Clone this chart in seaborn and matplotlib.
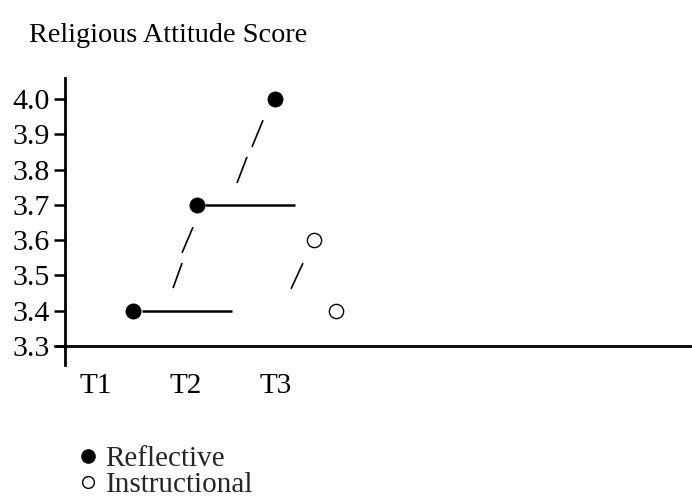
import matplotlib
matplotlib.use("Agg")
import matplotlib.pyplot as plt
import seaborn as sns
import pandas as pd
from matplotlib.lines import Line2D

sns.set_theme(style="white")
plt.rcParams["font.family"] = ["Liberation Serif", "DejaVu Serif"]

# ---- data ----
times = ["T1", "T2", "T3"]
time_pos = [0, 1, 2]
y_ticks = [3.3, 3.4, 3.5, 3.6, 3.7, 3.8, 3.9, 4.0]

reflective_x = [0.415, 1.119, 1.989]
reflective_y = [3.4, 3.7, 4.0]
instructional_x = [2.426, 2.667]
instructional_y = [3.6, 3.4]

# horizontal dash segments
hseg_y = [3.4, 3.7]
hseg_x0 = [0.511, 1.211]
hseg_x1 = [1.511, 2.211]

# slash segments
slash_x0 = [0.856, 0.956, 1.567, 1.733, 2.167]
slash_x1 = [0.956, 1.078, 1.678, 1.856, 2.300]
slash_y0 = [3.464, 3.564, 3.762, 3.864, 3.462]
slash_y1 = [3.535, 3.637, 3.836, 3.940, 3.535]

title = "Religious Attitude Score"
series_names = ["Reflective", "Instructional"]

# ---- figure ----
W, H = 692, 498
fig = plt.figure(figsize=(W / 100, H / 100), dpi=100)
ax_left, ax_right, ax_top, ax_bottom = 65, 692, 78, 365
ax = fig.add_axes([ax_left / W, 1 - ax_bottom / H, (ax_right - ax_left) / W, (ax_bottom - ax_top) / H])

px_per_x = 90.0
x0_px = 96.0
px_per_y = 352.9
ax.set_xlim((ax_left - x0_px) / px_per_x, (ax_right - x0_px) / px_per_x)
ax.set_ylim(3.3 - (ax_bottom - 346) / px_per_y, 4.0 + (99 - ax_top) / px_per_y)

ref_df = pd.DataFrame({"x": reflective_x, "y": reflective_y})
ins_df = pd.DataFrame({"x": instructional_x, "y": instructional_y})

for y, a, b in zip(hseg_y, hseg_x0, hseg_x1):
    ax.plot([a, b], [y, y], color="black", lw=1.8, solid_capstyle="butt", zorder=2)
for a, b, c, d in zip(slash_x0, slash_x1, slash_y0, slash_y1):
    ax.plot([a, b], [c, d], color="black", lw=1.2, solid_capstyle="butt", zorder=2)

sns.scatterplot(data=ref_df, x="x", y="y", ax=ax, color="black", s=120,
                edgecolor="black", linewidth=0.5, zorder=3, legend=False)
sns.scatterplot(data=ins_df, x="x", y="y", ax=ax, facecolor="white", s=105,
                edgecolor="black", linewidth=1.0, zorder=3, legend=False)

# axes
for s in ["top", "right", "bottom"]:
    ax.spines[s].set_visible(False)
ax.spines["left"].set_linewidth(2.0)
ax.spines["left"].set_color("black")
ax.axhline(3.3, xmin=-10 / (ax_right - ax_left), xmax=1, color="black", lw=2.0, clip_on=False)

ax.set_yticks(y_ticks)
ax.set_yticklabels([f"{v:.1f}" for v in y_ticks])
ax.tick_params(axis="y", direction="out", length=8, width=1.8, color="black",
               pad=3, labelsize=21.5, left=True)
ax.set_xticks(time_pos)
ax.set_xticklabels(times)
ax.tick_params(axis="x", length=0, pad=6, labelsize=21)
ax.set_xlabel("")
ax.set_ylabel("")
for lbl in ax.get_xticklabels() + ax.get_yticklabels():
    lbl.set_color("black")

fig.text(29 / W, 1 - 36 / H, title, fontsize=20.3, va="center", ha="left", color="black")

handles = [
    Line2D([], [], marker="o", linestyle="none", markerfacecolor="black",
           markeredgecolor="black", markersize=9.5),
    Line2D([], [], marker="o", linestyle="none", markerfacecolor="white",
           markeredgecolor="black", markeredgewidth=1.0, markersize=8.5),
]
fig.legend(handles, series_names, loc="upper left", bbox_to_anchor=(59 / W, 1 - 431 / H),
           frameon=False, fontsize=21, handletextpad=0.1, labelspacing=0.0,
           borderpad=0, handlelength=1.0)

fig.savefig("out.png", dpi=100)
